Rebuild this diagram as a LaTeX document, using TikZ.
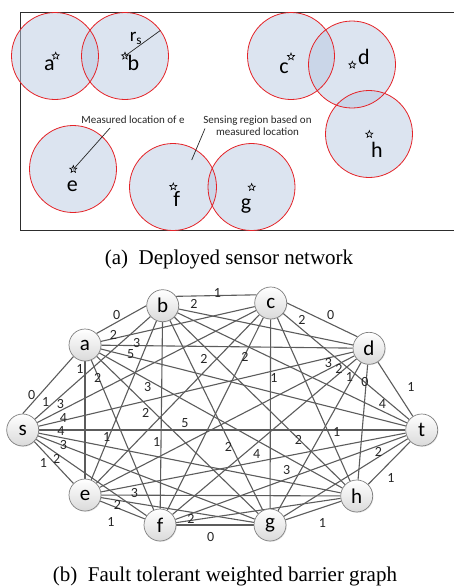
\documentclass[tikz,border=0pt]{standalone}
\usepackage{fontspec}
\setmainfont{Liberation Serif}
\newfontfamily\calfont{Carlito}
\usetikzlibrary{shapes.geometric,backgrounds,shadows}
\definecolor{sfill}{RGB}{185,201,225}
\definecolor{sred}{RGB}{228,35,40}
\definecolor{egray}{RGB}{92,92,92}
\definecolor{nborder}{RGB}{128,128,128}
\definecolor{nbottom}{RGB}{218,218,218}
\definecolor{framec}{RGB}{45,45,45}
\tikzset{
  sensorfill/.style={fill=sfill, fill opacity=0.5},
  sensoredge/.style={draw=sred, line width=0.8pt},
  starmark/.style={star, star points=5, star point ratio=2.3, minimum size=7.5pt, inner sep=0pt, draw=black, line width=0.6pt},
  slabel/.style={font=\calfont\fontsize{22}{22}\selectfont, anchor=base, inner sep=0pt},
  note/.style={font=\calfont\fontsize{11}{12.3}\selectfont, inner sep=0pt, text=black!85},
  pointer/.style={draw=black!85, line width=0.7pt},
  gnode/.style={circle, minimum size=32pt, inner sep=0pt, draw=nborder, line width=0.7pt,
     top color=white, bottom color=nbottom, font=\calfont\fontsize{21}{21}\selectfont,
     drop shadow={opacity=0.2, shadow xshift=0.8pt, shadow yshift=-0.8pt}},
  gedge/.style={draw=egray, line width=1.1pt},
  elab/.style={font=\calfont\fontsize{14}{14}\selectfont, inner sep=0pt, text=black!85},
  capt/.style={font=\fontsize{21}{21}\selectfont, anchor=base, inner sep=0pt}
}
\begin{document}
\begin{tikzpicture}[x=1pt,y=-1pt]
\useasboundingbox (0,0) rectangle (454,587);
% ---------- (a) deployed sensor network ----------
\draw[framec, line width=0.9pt] (454,12.3) -- (20.7,12.3) -- (20.7,230) -- (454,230);
\foreach \x/\y in {55/56, 125/56, 291/56, 352/64.5, 369/134, 73/169, 173/187, 251.5/187}
  \fill[sensorfill] (\x,\y) circle[radius=43.5pt];
\foreach \x/\y in {55/56, 125/56, 291/56, 352/64.5, 369/134, 73/169, 173/187, 251.5/187}
  \draw[sensoredge] (\x,\y) circle[radius=43.5pt];
\node[starmark] (sa) at (55.7,56) {};
\node[starmark] (sb) at (125,56) {};
\node[starmark] (sc) at (291,56.7) {};
\node[starmark] (sd) at (352.3,65) {};
\node[starmark] (sh) at (369.3,134.3) {};
\node[starmark] (se) at (73.3,169.3) {};
\node[starmark] (sf) at (173.3,186.7) {};
\node[starmark] (sg) at (251.7,187.3) {};
\node[slabel] (la) at (49.3,70.7) {a};
\node[slabel] (lb) at (133.3,70.7) {b};
\node[slabel] (lc) at (284,73.3) {c};
\node[slabel] (ld) at (364,64) {d};
\node[slabel] (le) at (72.3,191.7) {e};
\node[slabel] (lf) at (176.7,206) {f};
\node[slabel] (lg) at (246,209.5) {g};
\node[slabel] (lh) at (377,157.3) {h};
\node[slabel, font=\calfont\fontsize{19}{19}\selectfont] (rs) at (136,41.5) {r\textsubscript{s}};
\coordinate (rsend) at (160.3,30.5);
\draw[pointer] (sb.center) -- (rsend);
\node[note, anchor=base] (mloc) at (133,123.3) {Measured location of e};
\coordinate (mtip) at (110,128);
\draw[pointer] (se.center) -- (mtip);
\node[note, align=center] (sreg) at (257.5,125.5) {Sensing region based on\\measured location};
\coordinate (sregtip) at (205,128.5);
\coordinate (sregin) at (191.7,160);
\draw[pointer] (sregin) -- (sregtip);
\node[capt] (capa) at (229,264) {(a)\ \ Deployed sensor network};
% ---------- (b) barrier graph ----------
\node[gnode] (s) at (22.7,430) {s};
\node[gnode] (a) at (85,345) {a};
\node[gnode] (b) at (162.7,305.7) {b};
\node[gnode] (c) at (270.7,303) {c};
\node[gnode] (d) at (369,348.3) {d};
\node[gnode] (t) at (421.7,430) {t};
\node[gnode] (h) at (356.7,496) {h};
\node[gnode] (g) at (270,525) {g};
\node[gnode] (f) at (160,525) {f};
\node[gnode] (e) at (85,495) {e};
\begin{scope}[on background layer]
\foreach \u/\v in {s.90/a.225,s/b,s/c,s/d,s.315/e.135,s/f,s/g,s/h,s/t,
  a.45/b.180,a/c,a/d,a/e,a/f,a/g,a/h,a/t,
  b.35/c.150,b/d,b/e,b/f,b/g,b/h,b/t,
  c.0/d.135,c/e,c/f,c/g,c/h,c/t,
  d/e,d/f,d/g,d/h,d/t,
  e/f,e/g,e/h,e/t,
  f/g,f/h,f/t,
  g/h,g/t,
  h/t}
  \draw[gedge] (\u) -- (\v);
\end{scope}
\foreach \x/\y/\w [count=\i] in {
  217.3/292.7/1, 116.7/315/0, 194/304/2, 113.3/335/2, 136.7/343.3/3,
  130.7/354/5, 204/359.3/2, 80/369.3/1, 97.7/378.3/2, 147.7/387.3/3,
  31.7/395/0, 45.7/401.7/1, 60.5/404.3/3, 63.5/418.3/4, 145.7/413.3/2,
  185/422.7/5, 61/431/4, 63.5/445/3,
  106.7/436.7/1, 156.7/441.7/1,
  56.7/459.3/2, 43.3/463.3/1, 134.3/493.3/3, 117.3/505/2, 111/521.7/1,
  191/519/2, 210.7/537.3/0, 302/320/2, 330.7/315/0, 245/357.3/2,
  328.3/363.3/3, 339/369.3/2, 349.3/376.7/1, 365/382.3/0, 274/378.3/1,
  411/387.3/1, 382.3/404.3/4, 336.7/431.7/1, 228.3/446.7/2, 256.7/454.3/4,
  298.3/440/2, 286.7/470/3, 378.3/451.7/2, 391/478.3/1, 322.3/522.7/1}
  \node[elab] (w\i) at (\x,\y) {\w};
\node[capt] (capb) at (225,581.7) {(b)\ \ Fault tolerant weighted barrier graph};
\end{tikzpicture}
\end{document}
